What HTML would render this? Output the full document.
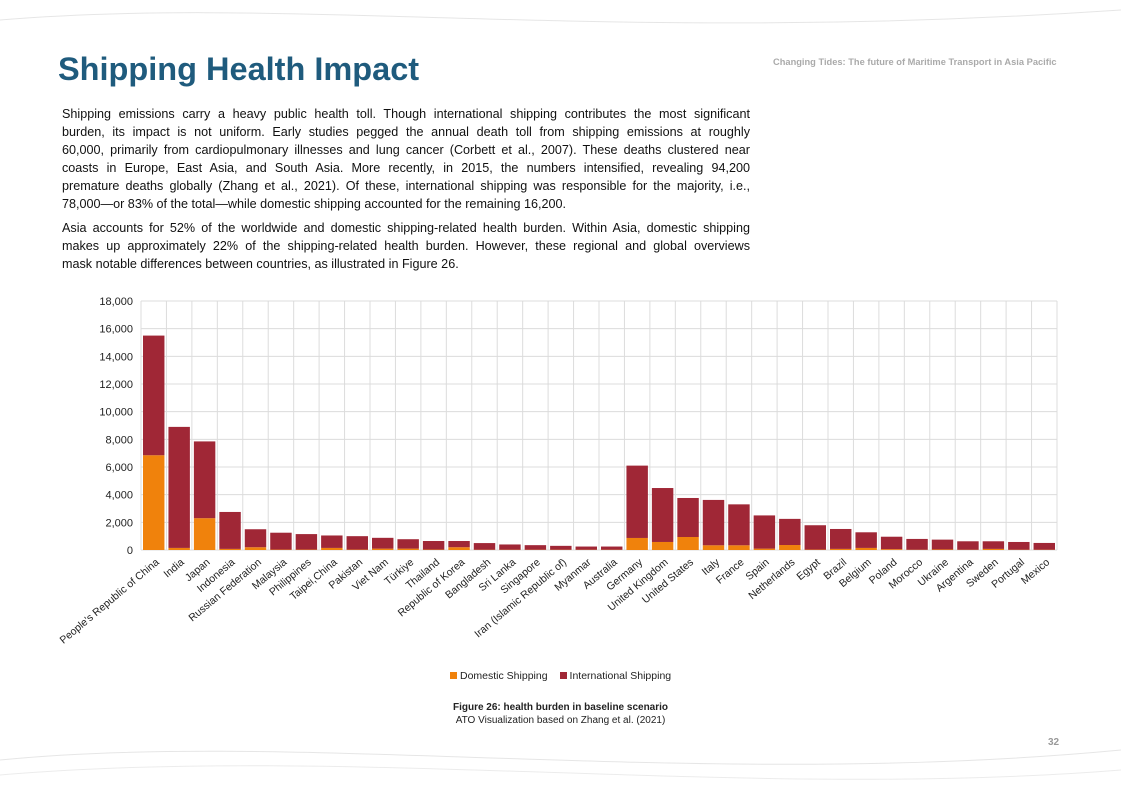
<!DOCTYPE html>
<html><head><meta charset="utf-8">
<style>
body{margin:0;width:1121px;height:793px;background:#fff;position:relative;overflow:hidden;font-family:"Liberation Sans",sans-serif;}
.t{position:absolute;}
.ln{position:absolute;left:62px;width:688px;font-size:12.6px;color:#111;text-align:justify;text-align-last:justify;white-space:nowrap;line-height:18px;}
.ln.l{text-align-last:left;}
.xl{position:absolute;font-size:10.5px;color:#222;white-space:nowrap;transform-origin:100% 50%;}
</style></head><body>
<svg class="t" style="left:0;top:0" width="1121" height="793">
<path d="M0,20 C300,-5 600,45 1121,10" stroke="#e6e6e6" fill="none"/>
<path d="M0,760 C300,730 700,790 1121,750" stroke="#e6e6e6" fill="none"/>
<path d="M0,775 C350,745 750,800 1121,770" stroke="#ececec" fill="none"/>
</svg>
<div class="t" style="left:58px;top:51px;font-size:32.5px;font-weight:bold;color:#1f5b7d;">Shipping Health Impact</div>
<div class="t" style="left:773px;top:57px;font-size:9.3px;font-weight:bold;color:#aaa;">Changing Tides: The future of Maritime Transport in Asia Pacific</div>
<div>
<div class="ln" style="top:105px">Shipping emissions carry a heavy public health toll. Though international shipping contributes the most significant</div>
<div class="ln" style="top:123px">burden, its impact is not uniform. Early studies pegged the annual death toll from shipping emissions at roughly</div>
<div class="ln" style="top:141px">60,000, primarily from cardiopulmonary illnesses and lung cancer (Corbett et al., 2007). These deaths clustered near</div>
<div class="ln" style="top:159px">coasts in Europe, East Asia, and South Asia. More recently, in 2015, the numbers intensified, revealing 94,200</div>
<div class="ln" style="top:177px">premature deaths globally (Zhang et al., 2021). Of these, international shipping was responsible for the majority, i.e.,</div>
<div class="ln l" style="top:195px">78,000—or 83% of the total—while domestic shipping accounted for the remaining 16,200.</div>
</div>
<div>
<div class="ln" style="top:219px">Asia accounts for 52% of the worldwide and domestic shipping-related health burden. Within Asia, domestic shipping</div>
<div class="ln" style="top:237px">makes up approximately 22% of the shipping-related health burden. However, these regional and global overviews</div>
<div class="ln l" style="top:255px">mask notable differences between countries, as illustrated in Figure 26.</div>
</div>
<svg id="chart" class="t" style="left:0;top:0" width="1121" height="793"></svg>
<div id="xlabels"></div>
<div class="t" style="left:450px;top:670px;font-size:10.5px;color:#222;display:flex;gap:12px;align-items:center;">
<span><span style="display:inline-block;width:7px;height:7px;background:#f0820c;margin-right:3px"></span>Domestic Shipping</span>
<span><span style="display:inline-block;width:7px;height:7px;background:#a02736;margin-right:3px"></span>International Shipping</span>
</div>
<div class="t" style="left:0;width:1121px;top:701px;text-align:center;font-size:10px;color:#222;line-height:13px;"><b>Figure 26: health burden in baseline scenario</b><br>ATO Visualization based on Zhang et al. (2021)</div>
<div class="t" style="left:1048px;top:737px;font-size:10px;font-weight:bold;color:#999;">32</div>
<script>
const categories=["People's Republic of China","India","Japan","Indonesia","Russian Federation","Malaysia","Philippines","Taipei,China","Pakistan","Viet Nam","Türkiye","Thailand","Republic of Korea","Bangladesh","Sri Lanka","Singapore","Iran (Islamic Republic of)","Myanmar","Australia","Germany","United Kingdom","United States","Italy","France","Spain","Netherlands","Egypt","Brazil","Belgium","Poland","Morocco","Ukraine","Argentina","Sweden","Portugal","Mexico"];
const domestic=[6850,150,2300,80,200,30,30,150,30,100,100,30,200,20,20,20,20,20,20,870,580,940,340,340,100,360,30,80,150,60,20,40,20,80,20,20];
const international=[8650,8750,5550,2670,1300,1220,1120,900,970,780,680,620,450,480,380,330,280,230,230,5230,3900,2820,3280,2960,2400,1890,1760,1440,1130,900,780,710,610,550,560,490];
const yTicks=[0,2000,4000,6000,8000,10000,12000,14000,16000,18000];
const X0=141,X1=1057,Y0=550,Y1=301,YMAX=18000;
const NS="http://www.w3.org/2000/svg";
const svg=document.getElementById('chart');
const bw=(X1-X0)/categories.length;
const y=v=>Y0-(v/YMAX)*(Y0-Y1);
const x=i=>X0+i*bw;
function mk(t,a){const e=document.createElementNS(NS,t);for(const k in a)e.setAttribute(k,a[k]);svg.appendChild(e);return e;}
yTicks.forEach(v=>{
  const g=mk('line',{x1:X0,x2:X1,y1:y(v),y2:y(v),stroke:'#dcdcdc','stroke-width':1});
  
  
  const t=mk('text',{x:X0-8,y:y(v)+4,'text-anchor':'end','font-size':'11','fill':'#222','font-family':'Liberation Sans, sans-serif'});
  t.textContent=v.toLocaleString('en-US');
  
  
});
for(let i=0;i<=categories.length;i++){
  const g=mk('line',{x1:x(i),x2:x(i),y1:Y1,y2:Y0,stroke:'#dcdcdc','stroke-width':1});
  
  
}
const lab=document.getElementById('xlabels');
categories.forEach((c,i)=>{
  const bx=x(i)+2,w=bw-4;
  const d=mk('rect',{x:bx,y:y(domestic[i]),width:w,height:Y0-y(domestic[i]),fill:'#f0820c'});
  
  
  const tot=domestic[i]+international[i];
  const r=mk('rect',{x:bx,y:y(tot),width:w,height:y(domestic[i])-y(tot),fill:'#a02736'});
  
  
  const L=document.createElement('div');
  L.className='xl';
  L.textContent=c;
  
  
  lab.appendChild(L);
  const wd=L.offsetWidth;
  const cx=x(i)+bw/2+4;
  L.style.left=(cx-wd)+'px';
  L.style.top=(Y0+5)+'px';
  L.style.transform='rotate(-40deg)';
});
</script>
</body></html>
